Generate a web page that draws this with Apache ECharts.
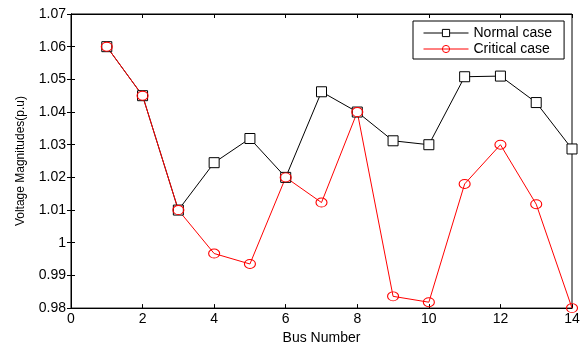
<!DOCTYPE html>
<html>
<head>
<meta charset="utf-8">
<script src="https://cdn.jsdelivr.net/npm/echarts@6/dist/echarts.min.js"></script>
<style>
  html, body { margin: 0; padding: 0; background: #fff; }
  #chart { width: 585px; height: 350px; }
</style>
</head>
<body>
<div id="chart"></div>
<script>
const busNumbers = [1, 2, 3, 4, 5, 6, 7, 8, 9, 10, 11, 12, 13, 14]
const normalCase = [1.06, 1.045, 1.01, 1.0245, 1.0319, 1.02, 1.0462, 1.04, 1.0312, 1.030, 1.0508, 1.051, 1.0429, 1.0287]
const criticalCase = [1.06, 1.045, 1.01, 0.9967, 0.9935, 1.02, 1.0123, 1.04, 0.9836, 0.9818, 1.018, 1.030, 1.0118, 0.980]

const font = 'Liberation Sans, Arial, sans-serif'
const toPairs = values => values.map((v, i) => [busNumbers[i], v])

const chart = echarts.init(document.getElementById('chart'))
chart.setOption({
  animation: false,
  backgroundColor: '#fff',
  grid: { left: 71, right: 13, top: 14, bottom: 34, show: true, borderColor: '#000', borderWidth: 1 },
  legend: {
    orient: 'vertical',
    left: 413,
    top: 21,
    itemWidth: 45,
    itemHeight: 9,
    itemGap: 2,
    padding: [5, 12, 3, 10],
    borderColor: '#000',
    borderWidth: 1,
    lineStyle: { width: 1 },
    itemStyle: { borderWidth: 1 },
    textStyle: { fontFamily: font, fontSize: 14, color: '#000' },
    data: ['Normal case', 'Critical case'],
  },
  xAxis: [
    {
      type: 'value',
      min: 0,
      max: 14,
      interval: 2,
      name: 'Bus Number',
      nameLocation: 'middle',
      nameGap: 19,
      nameTextStyle: { fontFamily: font, fontSize: 14, color: '#000' },
      axisLine: { lineStyle: { color: '#000' } },
      axisTick: { inside: true, length: 4, lineStyle: { color: '#000' } },
      axisLabel: { fontFamily: font, fontSize: 14, color: '#000', margin: 4 },
      splitLine: { show: false },
    },
    {
      type: 'value',
      position: 'top',
      min: 0,
      max: 14,
      interval: 2,
      axisLine: { lineStyle: { color: '#000' } },
      axisTick: { inside: true, length: 4, lineStyle: { color: '#000' } },
      axisLabel: { show: false },
      splitLine: { show: false },
    },
  ],
  yAxis: [
    {
      type: 'value',
      min: 0.98,
      max: 1.07,
      interval: 0.01,
      name: 'Voltage Magnitudes(p.u)',
      nameLocation: 'middle',
      nameGap: 44,
      nameTextStyle: { fontFamily: font, fontSize: 12, color: '#000' },
      axisLine: { lineStyle: { color: '#000' } },
      axisTick: { inside: true, length: 4, lineStyle: { color: '#000' } },
      axisLabel: {
        fontFamily: font, fontSize: 14, color: '#000', margin: 5,
        formatter: v => String(+v.toFixed(2)),
      },
      splitLine: { show: false },
    },
    {
      type: 'value',
      position: 'right',
      min: 0.98,
      max: 1.07,
      interval: 0.01,
      axisLine: { lineStyle: { color: '#000' } },
      axisTick: { inside: true, length: 4, lineStyle: { color: '#000' } },
      axisLabel: { show: false },
      splitLine: { show: false },
    },
  ],
  series: [
    {
      name: 'Normal case',
      type: 'line',
      data: toPairs(normalCase),
      symbol: 'rect',
      symbolSize: 10,
      showAllSymbol: true,
      itemStyle: { color: '#fff', borderColor: '#000', borderWidth: 1 },
      lineStyle: { color: '#000', width: 1 },
    },
    {
      name: 'Critical case',
      type: 'line',
      data: toPairs(criticalCase),
      symbol: 'circle',
      symbolSize: [11, 9],
      showAllSymbol: true,
      itemStyle: { color: 'rgba(255,255,255,0)', borderColor: '#f00', borderWidth: 1 },
      lineStyle: { color: '#f00', width: 1 },
    },
  ],
})
</script>
</body>
</html>
